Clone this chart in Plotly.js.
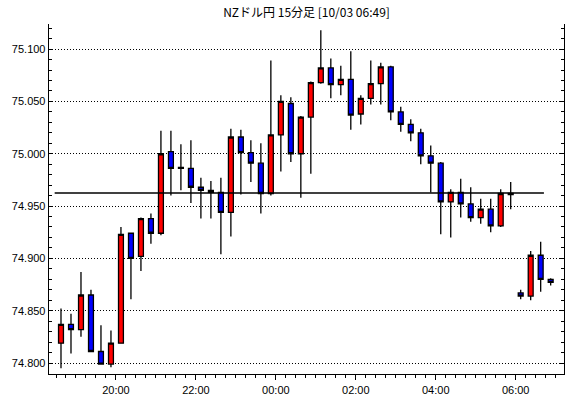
<!DOCTYPE html>
<html>
<head>
<meta charset="utf-8">
<script src="https://cdn.plot.ly/plotly-3.0.1.min.js"></script>
<style>html,body{margin:0;padding:0;background:#fff;}#chart{width:570px;height:398px;}</style>
</head>
<body>
<div id="chart"></div>
<script>
const chartTitle = 'NZドル円 15分足 [10/03 06:49]';

const times = [
  '2018-10-02 18:30','2018-10-02 18:45','2018-10-02 19:00','2018-10-02 19:15',
  '2018-10-02 19:30','2018-10-02 19:45','2018-10-02 20:00','2018-10-02 20:15',
  '2018-10-02 20:30','2018-10-02 20:45','2018-10-02 21:00','2018-10-02 21:15',
  '2018-10-02 21:30','2018-10-02 21:45','2018-10-02 22:00','2018-10-02 22:15',
  '2018-10-02 22:30','2018-10-02 22:45','2018-10-02 23:00','2018-10-02 23:15',
  '2018-10-02 23:30','2018-10-02 23:45','2018-10-03 00:00','2018-10-03 00:15',
  '2018-10-03 00:30','2018-10-03 00:45','2018-10-03 01:00','2018-10-03 01:15',
  '2018-10-03 01:30','2018-10-03 01:45','2018-10-03 02:00','2018-10-03 02:15',
  '2018-10-03 02:30','2018-10-03 02:45','2018-10-03 03:00','2018-10-03 03:15',
  '2018-10-03 03:30','2018-10-03 03:45','2018-10-03 04:00','2018-10-03 04:15',
  '2018-10-03 04:30','2018-10-03 04:45','2018-10-03 05:00','2018-10-03 05:15',
  '2018-10-03 05:30','2018-10-03 05:45','2018-10-03 06:00','2018-10-03 06:15',
  '2018-10-03 06:30','2018-10-03 06:45'
];

const opens = [
  74.819,74.837,74.832,74.865,74.811,74.799,74.819,74.924,74.902,74.938,
  74.924,75.002,74.987,74.986,74.968,74.965,74.963,74.944,75.016,75.001,
  74.991,74.962,75.018,75.048,75.000,75.035,75.068,75.082,75.066,75.071,
  75.038,75.053,75.067,75.083,75.040,75.028,75.020,74.998,74.991,74.954,
  74.963,74.952,74.939,74.947,74.931,74.962,74.867,74.864,74.903,74.880
];
const highs = [
  74.852,74.847,74.887,74.870,74.836,74.831,74.930,74.924,74.939,74.943,
  75.022,75.022,75.009,75.013,74.977,74.974,74.977,75.024,75.023,75.013,
  75.010,75.089,75.056,75.054,75.036,75.069,75.118,75.091,75.084,75.098,
  75.056,75.089,75.087,75.084,75.045,75.033,75.024,75.008,74.992,74.966,
  74.976,74.968,74.957,74.957,74.966,74.973,74.870,74.907,74.916,74.881
];
const lows = [
  74.795,74.809,74.825,74.811,74.799,74.796,74.819,74.861,74.888,74.914,
  74.922,74.960,74.965,74.953,74.938,74.938,74.904,74.921,74.961,74.973,
  74.943,74.960,74.983,74.992,74.958,74.981,75.067,75.053,75.056,75.023,
  75.028,75.047,75.047,75.032,75.021,75.012,74.990,74.963,74.923,74.920,
  74.939,74.935,74.933,74.925,74.930,74.947,74.861,74.860,74.868,74.874
];
const closes = [
  74.837,74.832,74.865,74.811,74.799,74.819,74.923,74.900,74.938,74.924,
  75.000,74.986,74.986,74.968,74.965,74.963,74.944,75.016,75.001,74.991,
  74.962,75.018,75.050,75.000,75.035,75.068,75.082,75.066,75.071,75.037,
  75.053,75.067,75.083,75.040,75.028,75.020,74.998,74.991,74.954,74.963,
  74.952,74.939,74.947,74.931,74.962,74.961,74.864,74.903,74.880,74.877
];

const refLine = 74.9625;
const xRange = ['2018-10-02 18:19:30', '2018-10-03 07:12:30'];
const yRange = [74.7895, 75.124];
const majorTick0 = '2018-10-02 20:00';

const trace = {
  type: 'candlestick',
  x: times, open: opens, high: highs, low: lows, close: closes,
  xperiod: 15 * 60 * 1000,
  xperiodalignment: 'middle',
  increasing: {line: {color: '#000000', width: 1.3}, fillcolor: '#ff0000'},
  decreasing: {line: {color: '#000000', width: 1.3}, fillcolor: '#0000ff'},
  whiskerwidth: 0,
  hoverinfo: 'skip',
  showlegend: false
};

const tickFont = {family: '"Liberation Sans", Arial, sans-serif', size: 11, color: '#000'};

const layout = {
  width: 570, height: 398,
  margin: {l: 49, r: 6, t: 24, b: 24, pad: 0},
  paper_bgcolor: '#ffffff',
  plot_bgcolor: '#ffffff',
  showlegend: false,
  hovermode: false,
  title: {
    text: chartTitle,
    font: {family: '"Noto Sans CJK JP", sans-serif', size: 12, color: '#000'},
    x: 0.5, xref: 'paper', xanchor: 'center',
    y: 0.967, yref: 'container', yanchor: 'middle'
  },
  xaxis: {
    type: 'date',
    range: xRange,
    rangeslider: {visible: false},
    showgrid: false, zeroline: false,
    showline: true, linecolor: '#000', linewidth: 1.3,
    ticks: 'outside', ticklen: 5, tickcolor: '#000', tickwidth: 1,
    tick0: majorTick0, dtick: 2 * 3600 * 1000,
    tickformat: '%H:%M',
    tickfont: tickFont,
    minor: {dtick: 15 * 60 * 1000, ticks: 'outside', ticklen: 3, tickcolor: '#000', showgrid: false},
    fixedrange: true
  },
  xaxis2: {
    type: 'date',
    overlaying: 'x', side: 'top', anchor: 'y', matches: 'x',
    range: xRange,
    showgrid: false, zeroline: false,
    showline: true, linecolor: '#000', linewidth: 1.3,
    ticks: 'inside', ticklen: 5, tickcolor: '#000',
    tick0: majorTick0, dtick: 2 * 3600 * 1000,
    showticklabels: false,
    minor: {dtick: 15 * 60 * 1000, ticks: 'inside', ticklen: 3, tickcolor: '#000', showgrid: false}
  },
  yaxis: {
    range: yRange,
    showgrid: true, gridcolor: '#000', gridwidth: 1, griddash: '1px,2px',
    zeroline: false,
    showline: true, linecolor: '#000', linewidth: 1.3, mirror: 'allticks',
    ticks: 'inside', ticklen: 4, tickcolor: '#000',
    tick0: 0, dtick: 0.05, tickformat: '.3f',
    tickfont: tickFont,
    minor: {dtick: 0.01, ticks: 'inside', ticklen: 3, tickcolor: '#000', showgrid: false},
    fixedrange: true
  },
  shapes: [{
    type: 'line', xref: 'paper', yref: 'y',
    x0: 0.011, x1: 0.961, y0: refLine, y1: refLine,
    line: {color: '#000', width: 1.4}, layer: 'above'
  }]
};

Plotly.newPlot('chart', [trace], layout, {staticPlot: true, displayModeBar: false});
</script>
</body>
</html>
